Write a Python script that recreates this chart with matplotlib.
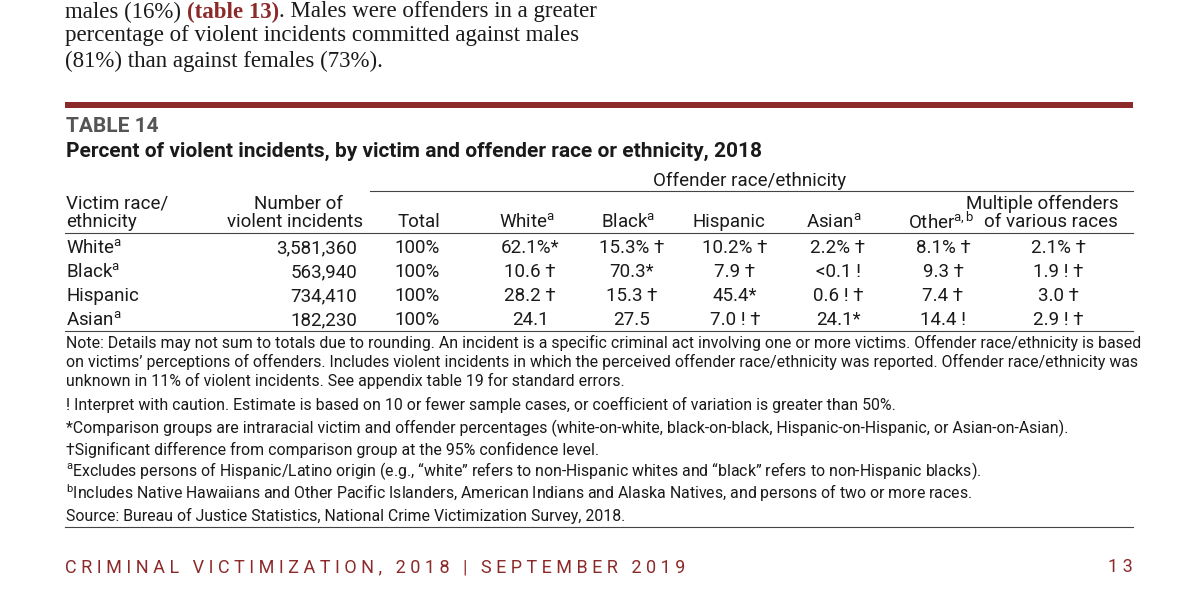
import matplotlib
matplotlib.use("Agg")
import matplotlib.pyplot as plt

SANS = ['Roboto', 'DejaVu Sans']
plt.rcParams['font.family'] = SANS
plt.rcParams['mathtext.fontset'] = 'custom'
plt.rcParams['mathtext.rm'] = 'Roboto'
plt.rcParams['mathtext.it'] = 'Roboto'

RED = '#8c2a2a'
TXT = '#1a1a1a'

victims = ['White$^{\\mathrm{a}}$', 'Black$^{\\mathrm{a}}$', 'Hispanic', 'Asian$^{\\mathrm{a}}$']
incidents = ['3,581,360', '563,940', '734,410', '182,230']
total = ['100%', '100%', '100%', '100%']
white = ['62.1%*', '10.6 †', '28.2 †', '24.1']
black = ['15.3% †', '70.3*', '15.3 †', '27.5']
hispanic = ['10.2% †', '7.9 †', '45.4*', '7.0 ! †']
asian = ['2.2% †', '<0.1 !', '0.6 ! †', '24.1*']
other = ['8.1% †', '9.3 †', '7.4 †', '14.4 !']
multiple = ['2.1% †', '1.9 ! †', '3.0 †', '2.9 ! †']

fig = plt.figure(figsize=(12, 5.96), dpi=100)
ax = fig.add_axes([0, 0, 1, 1])
ax.set_xlim(0, 1200); ax.set_ylim(596, 0); ax.axis('off')

def t(x, y, s, size=13.5, ha='left', **kw):
    kw.setdefault('color', TXT)
    return ax.text(x, y, s, fontsize=size, ha=ha, va='center', **kw)

# body text (serif), chained pieces
SER = ['Liberation Serif', 'DejaVu Serif']
r = fig.canvas.get_renderer()
x = 65
for s, c, w in [('males (16%) ', TXT, 'normal'), ('(table 13)', RED, 'bold'),
                ('. Males were offenders in a greater', TXT, 'normal')]:
    tx = ax.text(x, 12, s, fontsize=16.5, family=SER, va='center', color=c, weight=w)
    bb = tx.get_window_extent(renderer=r)
    x += bb.width
ax.text(65, 36, 'percentage of violent incidents committed against males', fontsize=16.5, family=SER, va='center', color=TXT)
ax.text(65, 61, '(81%) than against females (73%).', fontsize=16.5, family=SER, va='center', color=TXT)

ax.add_patch(plt.Rectangle((65, 102), 1068, 6, color=RED, lw=0))
t(66, 126, 'TABLE 14', size=15, weight='bold', color='#555555')
t(66, 151, 'Percent of violent incidents, by victim and offender race or ethnicity, 2018', size=15, weight='bold')

t(750, 181, 'Offender race/ethnicity', ha='center')
ax.plot([370, 1133], [191, 191], color='#444444', lw=0.8)

hy1, hy2 = 204, 222
t(66, hy1, 'Victim race/'); t(66, hy2, 'ethnicity')
t(343, hy1, 'Number of', ha='right'); t(363, hy2, 'violent incidents', ha='right')
t(440, hy2, 'Total', ha='right')
t(555, hy2, 'White$^{\\mathrm{a}}$', ha='right')
t(655, hy2, 'Black$^{\\mathrm{a}}$', ha='right')
t(765, hy2, 'Hispanic', ha='right')
t(862, hy2, 'Asian$^{\\mathrm{a}}$', ha='right')
t(975, hy2, 'Other$^{\\mathrm{a,b}}$', ha='right')
t(1118, hy1, 'Multiple offenders', ha='right'); t(1118, hy2, 'of various races', ha='right')
ax.plot([65, 1133], [233, 233], color='#444444', lw=0.8)

rows_y = [248, 272, 296, 320]
for i, y in enumerate(rows_y):
    t(66, y, victims[i])
    t(357, y, incidents[i], ha='right')
    t(440, y, total[i], ha='right')
    t(530, y, white[i], ha='center')
    t(632, y, black[i], ha='center')
    t(735, y, hispanic[i], ha='center')
    t(838, y, asian[i], ha='center')
    t(943, y, other[i], ha='center')
    t(1058, y, multiple[i], ha='center')
ax.plot([65, 1133], [331, 331], color='#444444', lw=0.8)

notes = [
    (343, 'Note: Details may not sum to totals due to rounding. An incident is a specific criminal act involving one or more victims. Offender race/ethnicity is based'),
    (362, 'on victims\u2019 perceptions of offenders. Includes violent incidents in which the perceived offender race/ethnicity was reported. Offender race/ethnicity was'),
    (381, 'unknown in 11% of violent incidents. See appendix table 19 for standard errors.'),
    (405, '! Interpret with caution. Estimate is based on 10 or fewer sample cases, or coefficient of variation is greater than 50%.'),
    (428, '*Comparison groups are intraracial victim and offender percentages (white-on-white, black-on-black, Hispanic-on-Hispanic, or Asian-on-Asian).'),
    (450, '\u2020Significant difference from comparison group at the 95% confidence level.'),
    (471, '$^{\\mathrm{a}}$Excludes persons of Hispanic/Latino origin (e.g., \u201cwhite\u201d refers to non-Hispanic whites and \u201cblack\u201d refers to non-Hispanic blacks).'),
    (493, '$^{\\mathrm{b}}$Includes Native Hawaiians and Other Pacific Islanders, American Indians and Alaska Natives, and persons of two or more races.'),
    (516, 'Source: Bureau of Justice Statistics, National Crime Victimization Survey, 2018.'),
]
for y, s in notes:
    t(66, y, s, size=11.4)
ax.plot([65, 1133], [527, 527], color='#444444', lw=0.8)

t(65, 567, 'C R I M I N A L   V I C T I M I Z A T I O N ,   2 0 1 8   |   S E P T E M B E R   2 0 1 9',
  size=13, color=RED)
t(1133, 567, '1 3', size=13, ha='right', color=RED)

fig.savefig('out.png', dpi=100, facecolor='white')
